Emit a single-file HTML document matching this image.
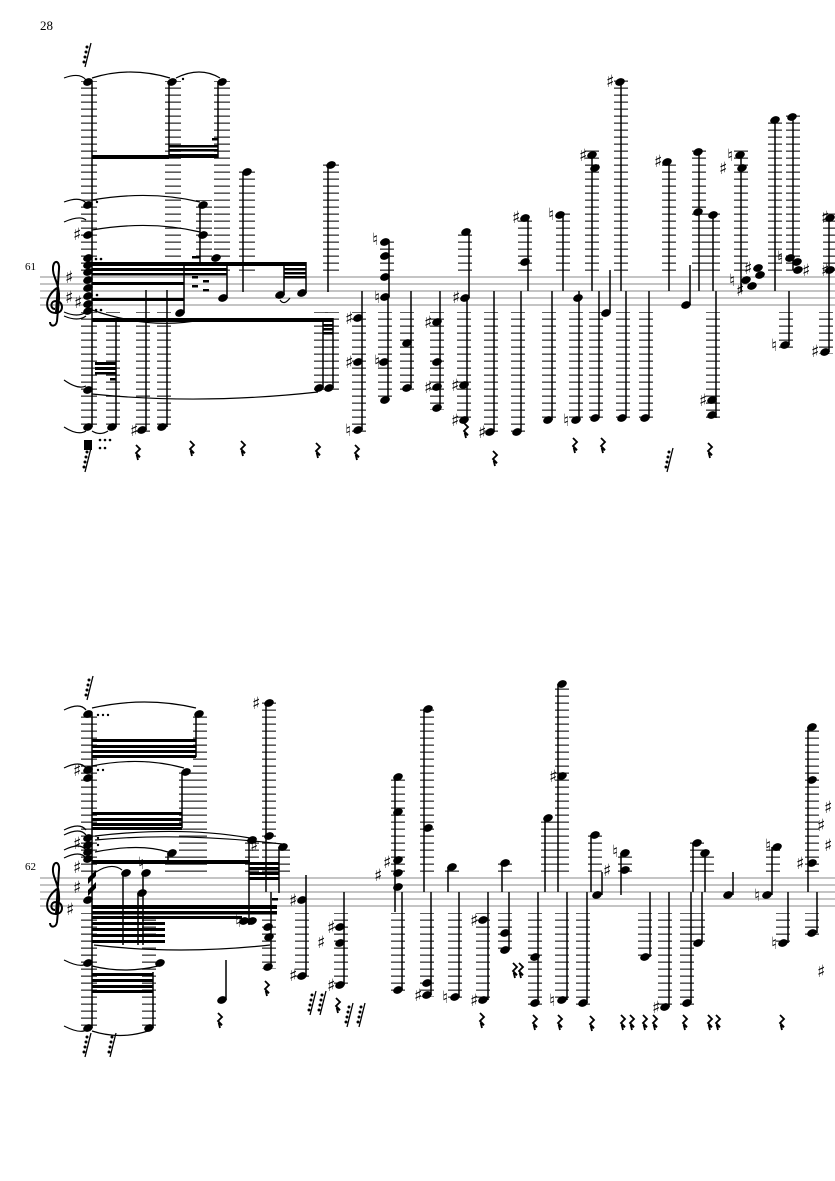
<!DOCTYPE html>
<html><head><meta charset="utf-8">
<style>
html,body{margin:0;padding:0;background:#fff;}
svg{display:block;}
text{font-family:"Liberation Serif","DejaVu Serif",serif;}
.acc{font-family:"DejaVu Sans",sans-serif;font-size:17px;font-weight:bold;}
</style></head>
<body>
<svg width="835" height="1181" viewBox="0 0 835 1181" xmlns="http://www.w3.org/2000/svg">
<defs>
<pattern id="L1" patternUnits="userSpaceOnUse" x="0" y="276.5" width="835" height="7"><rect x="0" y="0" width="835" height="1.3" fill="#333"/></pattern>
<pattern id="L2" patternUnits="userSpaceOnUse" x="0" y="877.5" width="835" height="7"><rect x="0" y="0" width="835" height="1.3" fill="#333"/></pattern>
<g id="h"><ellipse cx="0" cy="0" rx="5" ry="3.6" transform="rotate(-22)" fill="#000"/></g>
<g id="r"><path d="M-2,-7 L2,-3 L-2,1 L2,5 L-1,4 L0,8" stroke="#000" stroke-width="1.8" fill="none"/></g>
<g id="tr"><path d="M-3,12 L3,-12" stroke="#000" stroke-width="1.3"/><circle cx="-1" cy="-8" r="1.5"/><circle cx="-2" cy="-3" r="1.5"/><circle cx="-3" cy="2" r="1.5"/><circle cx="-4" cy="7" r="1.5"/></g>
<g id="clef"><path d="M7,-3 C-6,6 -6,22 6,22 C14,22 14,10 6,10 C0,10 0,18 5,18 M6,22 L9,-22 C10,-30 4,-32 3,-24 C2,-14 10,-8 9,8 L7,30 C6,36 0,36 0,31" stroke="#000" stroke-width="2" fill="none"/></g>
</defs>

<text x="40" y="30" font-size="13">28</text>

<!-- ===================== SYSTEM 1 ===================== -->
<text x="25" y="270" font-size="11">61</text>
<g stroke="#888" stroke-width="1">
<line x1="40" y1="277" x2="835" y2="277"/><line x1="40" y1="284" x2="835" y2="284"/><line x1="40" y1="291" x2="835" y2="291"/><line x1="40" y1="298" x2="835" y2="298"/><line x1="40" y1="305" x2="835" y2="305"/>
</g>
<use href="#clef" x="50" y="291"/>
<text class="acc" x="65" y="283">♯</text><text class="acc" x="65" y="303">♯</text><text class="acc" x="74" y="308">♯</text>

<g fill="url(#L1)">
<rect x="81" y="81" width="16" height="190"/>
<rect x="165" y="81" width="16" height="190"/>
<rect x="214" y="81" width="16" height="190"/>
<rect x="196" y="200" width="16" height="71"/>
<rect x="239" y="170" width="16" height="101"/>
<rect x="323" y="163" width="16" height="108"/>
<rect x="380" y="240" width="14" height="31"/>
<rect x="518" y="215" width="14" height="56"/>
<rect x="458" y="230" width="14" height="41"/>
<rect x="556" y="213" width="14" height="58"/>
<rect x="585" y="150" width="14" height="121"/>
<rect x="614" y="80" width="14" height="191"/>
<rect x="662" y="160" width="14" height="111"/>
<rect x="692" y="150" width="14" height="121"/>
<rect x="706" y="210" width="14" height="61"/>
<rect x="734" y="150" width="14" height="121"/>
<rect x="768" y="118" width="14" height="153"/>
<rect x="786" y="114" width="14" height="157"/>
<rect x="823" y="210" width="12" height="61"/>
<rect x="81" y="312" width="16" height="117"/>
<rect x="106" y="312" width="14" height="117"/>
<rect x="136" y="312" width="14" height="120"/>
<rect x="157" y="312" width="14" height="117"/>
<rect x="314" y="312" width="14" height="78"/>
<rect x="325" y="312" width="14" height="78"/>
<rect x="352" y="312" width="14" height="120"/>
<rect x="378" y="312" width="14" height="90"/>
<rect x="400" y="312" width="14" height="78"/>
<rect x="430" y="312" width="14" height="98"/>
<rect x="457" y="312" width="14" height="110"/>
<rect x="484" y="312" width="14" height="122"/>
<rect x="511" y="312" width="14" height="122"/>
<rect x="542" y="312" width="14" height="110"/>
<rect x="569" y="312" width="14" height="110"/>
<rect x="589" y="312" width="14" height="110"/>
<rect x="616" y="312" width="14" height="110"/>
<rect x="639" y="312" width="14" height="110"/>
<rect x="706" y="312" width="14" height="110"/>
<rect x="779" y="312" width="14" height="36"/>
<rect x="819" y="312" width="14" height="42"/>
</g>

<g stroke="#000" stroke-width="1.5">
<line x1="92" y1="82" x2="92" y2="427"/>
<line x1="169" y1="82" x2="169" y2="158"/>
<line x1="218" y1="82" x2="218" y2="158"/>
<line x1="200" y1="205" x2="200" y2="262"/>
<line x1="243" y1="172" x2="243" y2="292"/>
<line x1="328" y1="165" x2="328" y2="292"/>
<line x1="184" y1="262" x2="184" y2="313"/>
<line x1="227" y1="262" x2="227" y2="298"/>
<line x1="284" y1="262" x2="284" y2="295"/>
<line x1="306" y1="262" x2="306" y2="293"/>
<line x1="116" y1="318" x2="116" y2="427"/>
<line x1="146" y1="290" x2="146" y2="430"/>
<line x1="167" y1="290" x2="167" y2="427"/>
<line x1="323" y1="318" x2="323" y2="388"/>
<line x1="333" y1="318" x2="333" y2="388"/>
<line x1="362" y1="291" x2="362" y2="430"/>
<line x1="389" y1="242" x2="389" y2="297"/>
<line x1="388" y1="297" x2="388" y2="400"/>
<line x1="411" y1="291" x2="411" y2="388"/>
<line x1="440" y1="291" x2="440" y2="408"/>
<line x1="469" y1="232" x2="469" y2="298"/>
<line x1="467" y1="298" x2="467" y2="420"/>
<line x1="494" y1="291" x2="494" y2="432"/>
<line x1="521" y1="291" x2="521" y2="432"/>
<line x1="528" y1="218" x2="528" y2="291"/>
<line x1="552" y1="291" x2="552" y2="420"/>
<line x1="563" y1="215" x2="563" y2="291"/>
<line x1="579" y1="291" x2="579" y2="420"/>
<line x1="592" y1="155" x2="592" y2="291"/>
<line x1="599" y1="291" x2="599" y2="418"/>
<line x1="621" y1="82" x2="621" y2="291"/>
<line x1="610" y1="270" x2="610" y2="313"/>
<line x1="626" y1="291" x2="626" y2="418"/>
<line x1="649" y1="291" x2="649" y2="418"/>
<line x1="669" y1="162" x2="669" y2="291"/>
<line x1="690" y1="265" x2="690" y2="305"/>
<line x1="699" y1="152" x2="699" y2="291"/>
<line x1="713" y1="212" x2="713" y2="291"/>
<line x1="716" y1="291" x2="716" y2="418"/>
<line x1="741" y1="155" x2="741" y2="291"/>
<line x1="775" y1="120" x2="775" y2="291"/>
<line x1="793" y1="117" x2="793" y2="270"/>
<line x1="789" y1="291" x2="789" y2="345"/>
<line x1="829" y1="218" x2="829" y2="291"/>
<line x1="829" y1="291" x2="829" y2="352"/>
</g>
<g fill="#000">
<rect x="92" y="155" width="77" height="4"/>
<rect x="169" y="145" width="49" height="2.5"/><rect x="169" y="149" width="49" height="2.5"/><rect x="169" y="154" width="49" height="4"/>
<rect x="212" y="138" width="6" height="2.5"/>
<rect x="92" y="262" width="214" height="4"/>
<rect x="92" y="268" width="135" height="3"/>
<rect x="92" y="273" width="135" height="2.5"/>
<rect x="284" y="268" width="22" height="2.5"/><rect x="284" y="272" width="22" height="2.5"/><rect x="284" y="276" width="22" height="2.5"/>
<rect x="92" y="282" width="92" height="3"/>
<rect x="92" y="298" width="92" height="3"/>
<rect x="92" y="318" width="241" height="4"/>
<rect x="323" y="324" width="10" height="2.5"/><rect x="323" y="328" width="10" height="2.5"/><rect x="323" y="332" width="10" height="2.5"/>
<rect x="95" y="362" width="21" height="3"/><rect x="95" y="367" width="21" height="3"/><rect x="95" y="372" width="21" height="2.5"/>
<rect x="110" y="378" width="6" height="2.5"/>
<rect x="192" y="276" width="6" height="2.5"/><rect x="192" y="285" width="6" height="2.5"/><rect x="203" y="280" width="6" height="2.5"/><rect x="203" y="289" width="6" height="2.5"/>
<rect x="192" y="256" width="8" height="2.5"/>
</g>
<g>
<use href="#h" x="88" y="82"/><use href="#h" x="172" y="82"/><use href="#h" x="222" y="82"/>
<use href="#h" x="88" y="205"/><use href="#h" x="88" y="235"/><use href="#h" x="203" y="205"/><use href="#h" x="203" y="235"/>
<use href="#h" x="247" y="172"/><use href="#h" x="331" y="165"/>
<use href="#h" x="88" y="258"/><use href="#h" x="88" y="265"/><use href="#h" x="88" y="272"/><use href="#h" x="88" y="280"/><use href="#h" x="88" y="288"/><use href="#h" x="88" y="296"/><use href="#h" x="88" y="304"/><use href="#h" x="88" y="311"/>
<use href="#h" x="180" y="313"/><use href="#h" x="223" y="298"/><use href="#h" x="280" y="295"/><use href="#h" x="302" y="293"/><use href="#h" x="216" y="258"/>
<use href="#h" x="88" y="390"/><use href="#h" x="88" y="427"/><use href="#h" x="112" y="427"/><use href="#h" x="142" y="430"/><use href="#h" x="162" y="427"/>
<use href="#h" x="319" y="388"/><use href="#h" x="329" y="388"/>
<use href="#h" x="385" y="242"/><use href="#h" x="385" y="256"/><use href="#h" x="385" y="277"/><use href="#h" x="385" y="297"/>
<use href="#h" x="384" y="362"/><use href="#h" x="385" y="400"/><use href="#h" x="407" y="343"/><use href="#h" x="407" y="388"/>
<use href="#h" x="358" y="318"/><use href="#h" x="358" y="362"/><use href="#h" x="358" y="430"/>
<use href="#h" x="437" y="322"/><use href="#h" x="437" y="362"/><use href="#h" x="437" y="387"/><use href="#h" x="437" y="408"/>
<use href="#h" x="466" y="232"/><use href="#h" x="465" y="298"/><use href="#h" x="464" y="385"/><use href="#h" x="464" y="420"/>
<use href="#h" x="490" y="432"/><use href="#h" x="517" y="432"/>
<use href="#h" x="525" y="218"/><use href="#h" x="525" y="262"/><use href="#h" x="548" y="420"/>
<use href="#h" x="560" y="215"/><use href="#h" x="576" y="420"/><use href="#h" x="595" y="418"/>
<use href="#h" x="592" y="155"/><use href="#h" x="595" y="168"/><use href="#h" x="620" y="82"/><use href="#h" x="606" y="313"/>
<use href="#h" x="622" y="418"/><use href="#h" x="645" y="418"/><use href="#h" x="578" y="298"/>
<use href="#h" x="667" y="162"/><use href="#h" x="686" y="305"/>
<use href="#h" x="698" y="152"/><use href="#h" x="698" y="212"/><use href="#h" x="713" y="215"/>
<use href="#h" x="712" y="400"/><use href="#h" x="712" y="415"/>
<use href="#h" x="740" y="155"/><use href="#h" x="742" y="168"/>
<use href="#h" x="746" y="280"/><use href="#h" x="752" y="286"/><use href="#h" x="760" y="275"/><use href="#h" x="758" y="268"/>
<use href="#h" x="775" y="120"/><use href="#h" x="792" y="117"/><use href="#h" x="790" y="258"/><use href="#h" x="798" y="270"/><use href="#h" x="797" y="262"/>
<use href="#h" x="785" y="345"/><use href="#h" x="830" y="218"/><use href="#h" x="830" y="270"/><use href="#h" x="825" y="352"/>
</g>
<g>
<text x="73" y="240" class="acc">♯</text><text x="372" y="245" class="acc">♮</text>
<text x="130" y="436" class="acc">♯</text><text x="345" y="324" class="acc">♯</text><text x="345" y="368" class="acc">♯</text><text x="345" y="436" class="acc">♮</text>
<text x="374" y="303" class="acc">♮</text><text x="374" y="367" class="acc">♮</text>
<text x="424" y="328" class="acc">♯</text><text x="424" y="393" class="acc">♯</text>
<text x="452" y="303" class="acc">♯</text><text x="451" y="391" class="acc">♯</text><text x="451" y="426" class="acc">♯</text>
<text x="478" y="438" class="acc">♯</text><text x="512" y="223" class="acc">♯</text><text x="548" y="220" class="acc">♮</text><text x="563" y="426" class="acc">♮</text>
<text x="579" y="161" class="acc">♯</text><text x="606" y="87" class="acc">♯</text><text x="654" y="167" class="acc">♯</text>
<text x="699" y="406" class="acc">♯</text><text x="727" y="161" class="acc">♮</text><text x="719" y="174" class="acc">♯</text>
<text x="729" y="286" class="acc">♮</text><text x="736" y="296" class="acc">♯</text><text x="744" y="274" class="acc">♯</text>
<text x="777" y="263" class="acc">♮</text><text x="802" y="276" class="acc">♯</text><text x="771" y="351" class="acc">♮</text>
<text x="821" y="223" class="acc">♯</text><text x="821" y="276" class="acc">♯</text><text x="811" y="357" class="acc">♯</text>
</g>
<g stroke="#000" stroke-width="1.2" fill="none">
<path d="M64,78 Q80,72 86,80"/><path d="M92,78 Q130,66 170,78"/><path d="M176,78 Q200,66 220,78"/>
<path d="M64,202 Q80,196 86,203"/><path d="M92,200 Q150,190 200,202"/>
<path d="M64,222 Q80,215 86,220"/><path d="M92,230 Q150,220 200,232"/>
<path d="M64,380 Q78,390 86,386"/><path d="M92,394 Q200,405 318,392"/>
<path d="M64,427 Q78,436 86,431"/><path d="M92,431 Q100,436 108,431"/>
<path d="M64,312 Q78,318 86,312"/><path d="M64,316 Q78,322 86,316"/>
<path d="M92,310 Q150,330 200,320"/><path d="M280,300 Q284,306 290,298"/>
</g>
<g fill="#000">
<circle cx="96" cy="259" r="1.3"/><circle cx="101" cy="259" r="1.3"/><circle cx="96" cy="310" r="1.3"/><circle cx="101" cy="310" r="1.3"/><circle cx="97" cy="295" r="1.3"/><circle cx="183" cy="79" r="1.2"/><circle cx="97" cy="202" r="1.2"/>
</g>
<use href="#tr" x="88" y="55"/><use href="#tr" x="88" y="460"/><use href="#tr" x="670" y="460"/>
<g fill="#000"><circle cx="100" cy="440" r="1.3"/><circle cx="105" cy="440" r="1.3"/><circle cx="110" cy="440" r="1.3"/><circle cx="100" cy="448" r="1.3"/><circle cx="105" cy="448" r="1.3"/></g>
<rect x="84" y="440" width="8" height="10" fill="#000"/>
<g>
<use href="#r" x="138" y="452"/><use href="#r" x="192" y="448"/><use href="#r" x="243" y="448"/><use href="#r" x="318" y="450"/><use href="#r" x="357" y="452"/>
<use href="#r" x="466" y="430"/><use href="#r" x="495" y="458"/><use href="#r" x="575" y="445"/><use href="#r" x="603" y="445"/><use href="#r" x="710" y="450"/>
</g>

<!-- ===================== SYSTEM 2 ===================== -->
<text x="25" y="870" font-size="11">62</text>
<g stroke="#888" stroke-width="1">
<line x1="40" y1="878" x2="835" y2="878"/><line x1="40" y1="885" x2="835" y2="885"/><line x1="40" y1="892" x2="835" y2="892"/><line x1="40" y1="899" x2="835" y2="899"/><line x1="40" y1="906" x2="835" y2="906"/>
</g>
<use href="#clef" x="50" y="892"/>
<text class="acc" x="66" y="915">♯</text>

<g fill="url(#L2)">
<rect x="81" y="713" width="16" height="159"/>
<rect x="193" y="713" width="14" height="159"/>
<rect x="179" y="770" width="14" height="102"/>
<rect x="165" y="851" width="14" height="21"/>
<rect x="262" y="702" width="14" height="170"/>
<rect x="245" y="838" width="14" height="34"/>
<rect x="276" y="845" width="14" height="27"/>
<rect x="391" y="775" width="14" height="97"/>
<rect x="420" y="707" width="14" height="165"/>
<rect x="445" y="865" width="14" height="7"/>
<rect x="498" y="861" width="14" height="11"/>
<rect x="541" y="816" width="14" height="56"/>
<rect x="555" y="683" width="14" height="189"/>
<rect x="588" y="833" width="14" height="39"/>
<rect x="618" y="851" width="14" height="21"/>
<rect x="690" y="841" width="14" height="31"/>
<rect x="700" y="851" width="14" height="21"/>
<rect x="766" y="845" width="14" height="27"/>
<rect x="805" y="725" width="14" height="147"/>
<rect x="81" y="913" width="16" height="116"/>
<rect x="142" y="913" width="14" height="116"/>
<rect x="262" y="913" width="14" height="56"/>
<rect x="295" y="913" width="14" height="64"/>
<rect x="334" y="913" width="14" height="74"/>
<rect x="391" y="913" width="14" height="79"/>
<rect x="420" y="913" width="14" height="84"/>
<rect x="448" y="913" width="14" height="86"/>
<rect x="476" y="913" width="14" height="88"/>
<rect x="498" y="913" width="14" height="38"/>
<rect x="528" y="913" width="14" height="92"/>
<rect x="555" y="913" width="14" height="89"/>
<rect x="576" y="913" width="14" height="92"/>
<rect x="638" y="913" width="14" height="46"/>
<rect x="658" y="913" width="14" height="96"/>
<rect x="680" y="913" width="14" height="92"/>
<rect x="691" y="913" width="14" height="32"/>
<rect x="776" y="913" width="14" height="32"/>
<rect x="805" y="913" width="14" height="22"/>
</g>

<g stroke="#000" stroke-width="1.5">
<line x1="92" y1="714" x2="92" y2="1028"/>
<line x1="196" y1="714" x2="196" y2="757"/>
<line x1="182" y1="772" x2="182" y2="828"/>
<line x1="168" y1="853" x2="168" y2="862"/>
<line x1="123" y1="873" x2="123" y2="945"/>
<line x1="143" y1="873" x2="143" y2="945"/>
<line x1="138" y1="893" x2="138" y2="945"/>
<line x1="153" y1="972" x2="153" y2="1028"/>
<line x1="249" y1="840" x2="249" y2="925"/>
<line x1="266" y1="703" x2="266" y2="892"/>
<line x1="271" y1="892" x2="271" y2="967"/>
<line x1="279" y1="847" x2="279" y2="893"/>
<line x1="306" y1="875" x2="306" y2="976"/>
<line x1="344" y1="892" x2="344" y2="985"/>
<line x1="395" y1="777" x2="395" y2="912"/>
<line x1="402" y1="892" x2="402" y2="990"/>
<line x1="424" y1="709" x2="424" y2="892"/>
<line x1="431" y1="892" x2="431" y2="995"/>
<line x1="448" y1="867" x2="448" y2="892"/>
<line x1="459" y1="892" x2="459" y2="997"/>
<line x1="488" y1="892" x2="488" y2="1000"/>
<line x1="502" y1="863" x2="502" y2="892"/>
<line x1="509" y1="892" x2="509" y2="950"/>
<line x1="538" y1="892" x2="538" y2="1003"/>
<line x1="545" y1="818" x2="545" y2="892"/>
<line x1="558" y1="684" x2="558" y2="892"/>
<line x1="567" y1="892" x2="567" y2="1000"/>
<line x1="587" y1="892" x2="587" y2="1003"/>
<line x1="591" y1="835" x2="591" y2="892"/>
<line x1="602" y1="872" x2="602" y2="895"/>
<line x1="621" y1="853" x2="621" y2="895"/>
<line x1="650" y1="892" x2="650" y2="957"/>
<line x1="669" y1="892" x2="669" y2="1007"/>
<line x1="691" y1="892" x2="691" y2="1003"/>
<line x1="693" y1="843" x2="693" y2="892"/>
<line x1="702" y1="892" x2="702" y2="943"/>
<line x1="705" y1="853" x2="705" y2="892"/>
<line x1="733" y1="872" x2="733" y2="895"/>
<line x1="772" y1="847" x2="772" y2="895"/>
<line x1="788" y1="892" x2="788" y2="943"/>
<line x1="808" y1="727" x2="808" y2="892"/>
<line x1="817" y1="892" x2="817" y2="933"/>
<line x1="226" y1="960" x2="226" y2="1000"/>
</g>
<g fill="#000">
<rect x="92" y="739" width="104" height="3"/><rect x="92" y="745" width="104" height="3"/><rect x="92" y="750" width="104" height="3"/><rect x="92" y="755" width="104" height="3"/>
<rect x="92" y="812" width="90" height="3"/><rect x="92" y="818" width="90" height="3"/><rect x="92" y="823" width="90" height="3"/><rect x="92" y="827" width="90" height="3"/>
<rect x="92" y="860" width="158" height="4"/>
<rect x="92" y="905" width="185" height="4"/><rect x="92" y="911" width="185" height="3.5"/><rect x="92" y="916" width="150" height="3"/>
<rect x="92" y="922" width="73" height="3"/><rect x="92" y="928" width="73" height="3"/><rect x="92" y="934" width="73" height="3"/><rect x="92" y="940" width="73" height="3"/>
<rect x="92" y="973" width="61" height="3"/><rect x="92" y="979" width="61" height="3"/><rect x="92" y="985" width="61" height="3"/><rect x="92" y="990" width="61" height="3"/>
<rect x="249" y="862" width="30" height="3"/><rect x="249" y="867" width="30" height="3"/><rect x="249" y="872" width="30" height="3"/><rect x="249" y="877" width="30" height="3"/>
<rect x="272" y="898" width="6" height="2.5"/>
<path d="M88,878 L96,870 L96,876 L88,884 Z M88,890 L96,882 L96,888 L88,896 Z"/>
</g>
<g>
<use href="#h" x="88" y="714"/><use href="#h" x="199" y="714"/>
<use href="#h" x="88" y="770"/><use href="#h" x="88" y="778"/><use href="#h" x="186" y="772"/>
<use href="#h" x="88" y="838"/><use href="#h" x="88" y="845"/><use href="#h" x="88" y="852"/><use href="#h" x="88" y="859"/>
<use href="#h" x="88" y="900"/><use href="#h" x="172" y="853"/>
<use href="#h" x="126" y="873"/><use href="#h" x="146" y="873"/><use href="#h" x="142" y="893"/>
<use href="#h" x="88" y="963"/><use href="#h" x="160" y="963"/><use href="#h" x="88" y="1028"/><use href="#h" x="149" y="1028"/>
<use href="#h" x="222" y="1000"/>
<use href="#h" x="269" y="703"/><use href="#h" x="269" y="836"/><use href="#h" x="252" y="840"/><use href="#h" x="283" y="847"/><use href="#h" x="244" y="921"/><use href="#h" x="252" y="921"/>
<use href="#h" x="268" y="927"/><use href="#h" x="269" y="937"/><use href="#h" x="268" y="967"/>
<use href="#h" x="302" y="900"/><use href="#h" x="302" y="976"/>
<use href="#h" x="340" y="927"/><use href="#h" x="340" y="943"/><use href="#h" x="340" y="985"/>
<use href="#h" x="398" y="777"/><use href="#h" x="398" y="812"/><use href="#h" x="398" y="860"/><use href="#h" x="398" y="873"/><use href="#h" x="398" y="887"/><use href="#h" x="398" y="990"/>
<use href="#h" x="428" y="709"/><use href="#h" x="428" y="828"/><use href="#h" x="427" y="983"/><use href="#h" x="427" y="995"/>
<use href="#h" x="452" y="867"/><use href="#h" x="455" y="997"/>
<use href="#h" x="483" y="920"/><use href="#h" x="483" y="1000"/>
<use href="#h" x="505" y="863"/><use href="#h" x="505" y="933"/><use href="#h" x="505" y="950"/>
<use href="#h" x="535" y="957"/><use href="#h" x="535" y="1003"/>
<use href="#h" x="548" y="818"/><use href="#h" x="562" y="684"/><use href="#h" x="562" y="776"/><use href="#h" x="562" y="1000"/>
<use href="#h" x="583" y="1003"/><use href="#h" x="595" y="835"/><use href="#h" x="597" y="895"/>
<use href="#h" x="625" y="853"/><use href="#h" x="625" y="870"/>
<use href="#h" x="645" y="957"/><use href="#h" x="665" y="1007"/><use href="#h" x="687" y="1003"/>
<use href="#h" x="697" y="843"/><use href="#h" x="705" y="853"/><use href="#h" x="698" y="943"/>
<use href="#h" x="728" y="895"/><use href="#h" x="767" y="895"/><use href="#h" x="777" y="847"/><use href="#h" x="783" y="943"/>
<use href="#h" x="812" y="727"/><use href="#h" x="812" y="780"/><use href="#h" x="812" y="863"/><use href="#h" x="812" y="933"/>
</g>
<g>
<text x="73" y="776" class="acc">♯</text><text x="73" y="849" class="acc">♯</text><text x="73" y="873" class="acc">♯</text><text x="73" y="893" class="acc">♯</text>
<text x="138" y="869" class="acc">♮</text>
<text x="252" y="709" class="acc">♯</text><text x="250" y="851" class="acc">♯</text><text x="235" y="927" class="acc">♮</text>
<text x="289" y="906" class="acc">♯</text><text x="289" y="981" class="acc">♯</text>
<text x="327" y="933" class="acc">♯</text><text x="317" y="948" class="acc">♯</text><text x="327" y="991" class="acc">♯</text>
<text x="374" y="881" class="acc">♯</text><text x="383" y="868" class="acc">♯</text>
<text x="414" y="1001" class="acc">♯</text><text x="442" y="1003" class="acc">♮</text><text x="470" y="926" class="acc">♯</text><text x="470" y="1006" class="acc">♯</text>
<text x="549" y="782" class="acc">♯</text><text x="549" y="1006" class="acc">♮</text>
<text x="603" y="876" class="acc">♯</text><text x="612" y="857" class="acc">♮</text>
<text x="652" y="1013" class="acc">♯</text><text x="754" y="901" class="acc">♮</text><text x="765" y="851" class="acc">♮</text><text x="771" y="949" class="acc">♮</text>
<text x="796" y="869" class="acc">♯</text><text x="817" y="831" class="acc">♯</text><text x="824" y="813" class="acc">♯</text><text x="824" y="851" class="acc">♯</text><text x="817" y="977" class="acc">♯</text>
</g>
<g stroke="#000" stroke-width="1.2" fill="none">
<path d="M64,710 Q80,702 86,710"/><path d="M92,708 Q145,696 196,708"/>
<path d="M64,768 Q80,760 86,768"/><path d="M92,766 Q140,756 184,768"/>
<path d="M64,830 Q80,822 86,830"/><path d="M64,835 Q80,827 86,835"/><path d="M64,850 Q80,842 86,850"/><path d="M64,858 Q80,850 86,858"/>
<path d="M95,836 Q180,826 250,838"/><path d="M95,840 Q180,832 282,844"/><path d="M95,852 Q140,843 168,852"/>
<path d="M96,872 Q112,862 122,870"/>
<path d="M64,960 Q80,968 86,964"/><path d="M92,966 Q125,974 158,966"/>
<path d="M64,1026 Q80,1034 86,1030"/><path d="M92,1031 Q120,1040 148,1031"/>
<path d="M94,945 Q180,955 270,945"/>
</g>
<g fill="#000">
<circle cx="98" cy="715" r="1.2"/><circle cx="103" cy="715" r="1.2"/><circle cx="108" cy="715" r="1.2"/>
<circle cx="98" cy="770" r="1.2"/><circle cx="103" cy="770" r="1.2"/>
<circle cx="98" cy="838" r="1.2"/><circle cx="98" cy="845" r="1.2"/>
</g>
<use href="#tr" x="90" y="688"/><use href="#tr" x="88" y="1045"/><use href="#tr" x="113" y="1045"/>
<use href="#tr" x="313" y="1003"/><use href="#tr" x="323" y="1003"/><use href="#tr" x="350" y="1015"/><use href="#tr" x="362" y="1015"/>
<g>
<use href="#r" x="220" y="1020"/><use href="#r" x="338" y="1005"/><use href="#r" x="267" y="988"/>
<use href="#r" x="482" y="1020"/><use href="#r" x="515" y="970"/><use href="#r" x="521" y="970"/>
<use href="#r" x="535" y="1022"/><use href="#r" x="560" y="1022"/><use href="#r" x="592" y="1023"/><use href="#r" x="623" y="1022"/><use href="#r" x="632" y="1022"/>
<use href="#r" x="645" y="1022"/><use href="#r" x="655" y="1022"/><use href="#r" x="685" y="1022"/><use href="#r" x="710" y="1022"/><use href="#r" x="718" y="1022"/><use href="#r" x="782" y="1022"/>
</g>
</svg>
</body></html>
